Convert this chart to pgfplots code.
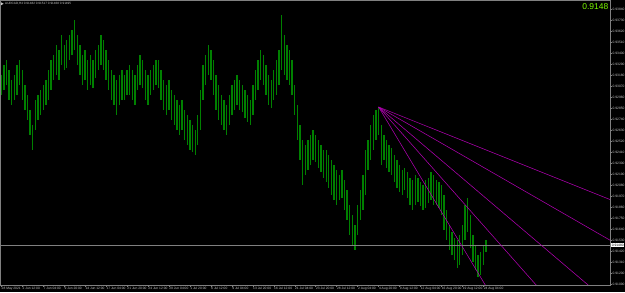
\documentclass[border=0pt]{standalone}
\usepackage{fontspec}
\setmainfont{Liberation Sans}
\usepackage{pgfplots}
\pgfplotsset{compat=1.18}
\usepackage{pgfplotstable}
\definecolor{barg}{RGB}{0,128,0}
\definecolor{fan}{RGB}{175,0,175}
\definecolor{lime}{RGB}{124,252,0}
\definecolor{frame}{RGB}{128,128,128}
\definecolor{lbl}{RGB}{200,200,200}

\pgfplotstableread{
i hi lo
0 0.9318 0.9298
2 0.9328 0.9303
4 0.9333 0.9308
6 0.9323 0.9293
8 0.9313 0.9288
10 0.9318 0.9293
12 0.9328 0.9298
14 0.9333 0.9308
16 0.9323 0.9293
18 0.9308 0.9283
20 0.9298 0.9273
22 0.9283 0.9258
24 0.9268 0.9243
26 0.9293 0.9263
28 0.9298 0.9273
30 0.9303 0.9278
32 0.9308 0.9283
34 0.9313 0.9288
36 0.9323 0.9293
38 0.9333 0.9303
40 0.9338 0.9313
42 0.9348 0.9318
44 0.9343 0.9313
46 0.9358 0.9328
48 0.9348 0.9323
50 0.9353 0.9325
52 0.9358 0.9333
54 0.9363 0.9338
56 0.9373 0.9343
58 0.9358 0.9328
60 0.9348 0.9318
62 0.9338 0.9308
64 0.9343 0.9313
66 0.9333 0.9303
68 0.9338 0.9308
70 0.9333 0.9305
72 0.9343 0.9315
74 0.9348 0.9323
76 0.9358 0.9328
78 0.9353 0.9323
80 0.9343 0.9313
82 0.9333 0.9303
84 0.9323 0.9293
86 0.9318 0.9288
88 0.9313 0.9278
90 0.9318 0.9288
92 0.9323 0.9293
94 0.9318 0.9293
96 0.9323 0.9298
98 0.9328 0.9298
100 0.9323 0.9293
102 0.9318 0.9288
104 0.9328 0.9303
106 0.9338 0.9308
108 0.9333 0.9305
110 0.9323 0.9293
112 0.9318 0.9288
114 0.9323 0.9298
116 0.9328 0.9303
118 0.9333 0.9308
120 0.9333 0.9305
122 0.9323 0.9293
124 0.9313 0.9283
126 0.9308 0.9278
128 0.9313 0.9283
130 0.9303 0.9273
132 0.9298 0.9268
134 0.9293 0.9263
136 0.9288 0.9258
138 0.9293 0.9263
140 0.9283 0.9253
142 0.9278 0.9248
144 0.9273 0.9243
146 0.9268 0.9241
148 0.9263 0.9238
150 0.9278 0.9248
152 0.9303 0.9263
154 0.9328 0.9293
156 0.9338 0.9308
158 0.9348 0.9318
160 0.9343 0.9313
162 0.9333 0.9298
164 0.9318 0.9283
166 0.9308 0.9273
168 0.9298 0.9268
170 0.9293 0.9263
172 0.9288 0.9258
174 0.9298 0.9268
176 0.9308 0.9278
178 0.9313 0.9283
180 0.9318 0.9288
182 0.9313 0.9283
184 0.9308 0.9281
186 0.9303 0.9275
188 0.9298 0.9271
190 0.9293 0.9268
192 0.9308 0.9278
194 0.9323 0.9293
196 0.9333 0.9303
198 0.9343 0.9313
200 0.9338 0.9308
202 0.9328 0.9298
204 0.9318 0.9288
206 0.9313 0.9285
208 0.9323 0.9293
210 0.9333 0.9298
212 0.9343 0.9308
214 0.9378 0.9323
216 0.9358 0.9318
218 0.9348 0.9313
220 0.9343 0.9308
222 0.9333 0.9298
224 0.9308 0.9278
226 0.9288 0.9253
228 0.9268 0.9233
230 0.9253 0.9208
232 0.9248 0.9218
234 0.9253 0.9223
236 0.9258 0.9228
238 0.9263 0.9233
240 0.9258 0.9231
242 0.9253 0.9225
244 0.9248 0.9221
246 0.9243 0.9215
248 0.9243 0.9211
250 0.9238 0.9205
252 0.9233 0.9198
254 0.9228 0.9193
256 0.9223 0.9188
258 0.9218 0.9193
260 0.9223 0.9195
262 0.9213 0.9183
264 0.9203 0.9173
266 0.9188 0.9158
268 0.9178 0.9148
270 0.9168 0.9143
272 0.9188 0.9158
274 0.9203 0.9173
276 0.9218 0.9183
278 0.9243 0.9198
280 0.9253 0.9223
282 0.9268 0.9233
284 0.9278 0.9243
286 0.9283 0.9253
288 0.9286 0.9258
290 0.9268 0.9228
292 0.9258 0.9233
294 0.9253 0.9225
296 0.9248 0.9221
298 0.9245 0.9218
300 0.9238 0.9211
302 0.9233 0.9205
304 0.9228 0.9201
306 0.9223 0.9198
308 0.9225 0.9203
310 0.9221 0.9195
312 0.9215 0.9188
314 0.9213 0.9183
316 0.9218 0.9188
318 0.9215 0.9191
320 0.9211 0.9187
322 0.9208 0.9183
324 0.9213 0.9185
326 0.9215 0.9190
328 0.9221 0.9193
330 0.9218 0.9188
332 0.9213 0.9188
334 0.9211 0.9185
336 0.9208 0.9178
338 0.9198 0.9163
340 0.9183 0.9153
342 0.9168 0.9143
344 0.9161 0.9138
346 0.9155 0.9133
348 0.9153 0.9125
350 0.9158 0.9128
352 0.9168 0.9138
354 0.9188 0.9153
356 0.9195 0.9161
358 0.9178 0.9145
360 0.9158 0.9131
362 0.9148 0.9123
364 0.9138 0.9116
366 0.9141 0.9118
368 0.9148 0.9128
370 0.9153 0.9141
}\bars

\begin{document}
\begin{tikzpicture}[x=1bp,y=1bp]
\fill[black] (0,0) rectangle (625,292);
\useasboundingbox (0,0) rectangle (625,292);
\begin{axis}[
  at={(0,7)}, anchor=south west,
  scale only axis, width=610bp, height=285bp,
  xmin=-1, xmax=464.65, ymin=0.9108, ymax=0.9393,
  axis line style={frame, line width=0.6bp},
  tick align=outside, major tick length=1.8bp,
  tick style={frame, line width=0.5bp},
  xtick={0,16,32,48,64,80,96,112,128,144,160,176,192,208,224,240,256,272,288,304,320,336,352,368},
  xticklabels={28 May 2021,2 Jun 12:00,7 Jun 04:00,9 Jun 20:00,14 Jun 12:00,17 Jun 04:00,21 Jun 20:00,24 Jun 12:00,29 Jun 04:00,1 Jul 20:00,6 Jul 12:00,9 Jul 04:00,13 Jul 20:00,16 Jul 12:00,21 Jul 04:00,23 Jul 20:00,28 Jul 12:00,2 Aug 04:00,4 Aug 20:00,9 Aug 12:00,12 Aug 04:00,16 Aug 20:00,19 Aug 12:00,24 Aug 04:00},
  xtick pos=bottom,
  ytick={0.9109,0.9120,0.9131,0.9142,0.9153,0.9164,0.9175,0.9186,0.9197,0.9208,0.9219,0.9230,0.9241,0.9252,0.9263,0.9274,0.9285,0.9296,0.9307,0.9318,0.9329,0.9340,0.9351,0.9362,0.9373,0.9384},
  ytick pos=right, yticklabel pos=right,
  /pgf/number format/assume math mode=true,
  yticklabel style={/pgf/number format/.cd, fixed, fixed zerofill, precision=5, /tikz/.cd, anchor=west, inner sep=0.6bp},
  xticklabel style={anchor=north west, inner sep=0.5bp, xshift=-0.3bp},
  ticklabel style={font=\fontsize{3.3}{3.6}\selectfont, text=lbl},
  scaled y ticks=false,
  clip=true,
]
\addplot[draw=none, mark=none, forget plot,
  error bars/.cd, y dir=plus, y explicit, error mark=none,
  error bar style={draw=barg, line width=1.35bp, solid}]
  table[x=i, y=lo, y error plus expr=\thisrow{hi}-\thisrow{lo}] {\bars};
\addplot[frame, line width=0.5bp, forget plot] coordinates {(-1,0.9148) (465,0.9148)};
\addplot[fan, line width=0.55bp, forget plot] coordinates {(288,0.9286) (540,0.9154)};
\addplot[fan, line width=0.55bp, forget plot] coordinates {(288,0.9286) (540,0.9096)};
\addplot[fan, line width=0.55bp, forget plot] coordinates {(288,0.9286) (540,0.90055)};
\addplot[fan, line width=0.55bp, forget plot] coordinates {(288,0.9286) (540,0.8913)};
\addplot[fan, line width=0.55bp, forget plot] coordinates {(288,0.9286) (540,0.8735)};
\end{axis}
\node[fill=white, text=black, inner sep=0.6bp, anchor=west, font=\fontsize{3.3}{3.6}\selectfont] at (611,47) {0.91480};
\node[anchor=east, text=lime, inner sep=0pt, font=\fontsize{8.5}{9}\selectfont] at (608.5,285.3) {0.9148};
\fill[lbl] (1.2,289.6) -- (3.6,288.2) -- (1.2,286.8) -- cycle;
\node[anchor=west, text=lbl, inner sep=0pt, font=\fontsize{3.1}{3.4}\selectfont] at (5,288.2) {AUDCAD,H4  0.91482 0.91517 0.91468 0.91495};
\end{tikzpicture}
\end{document}
